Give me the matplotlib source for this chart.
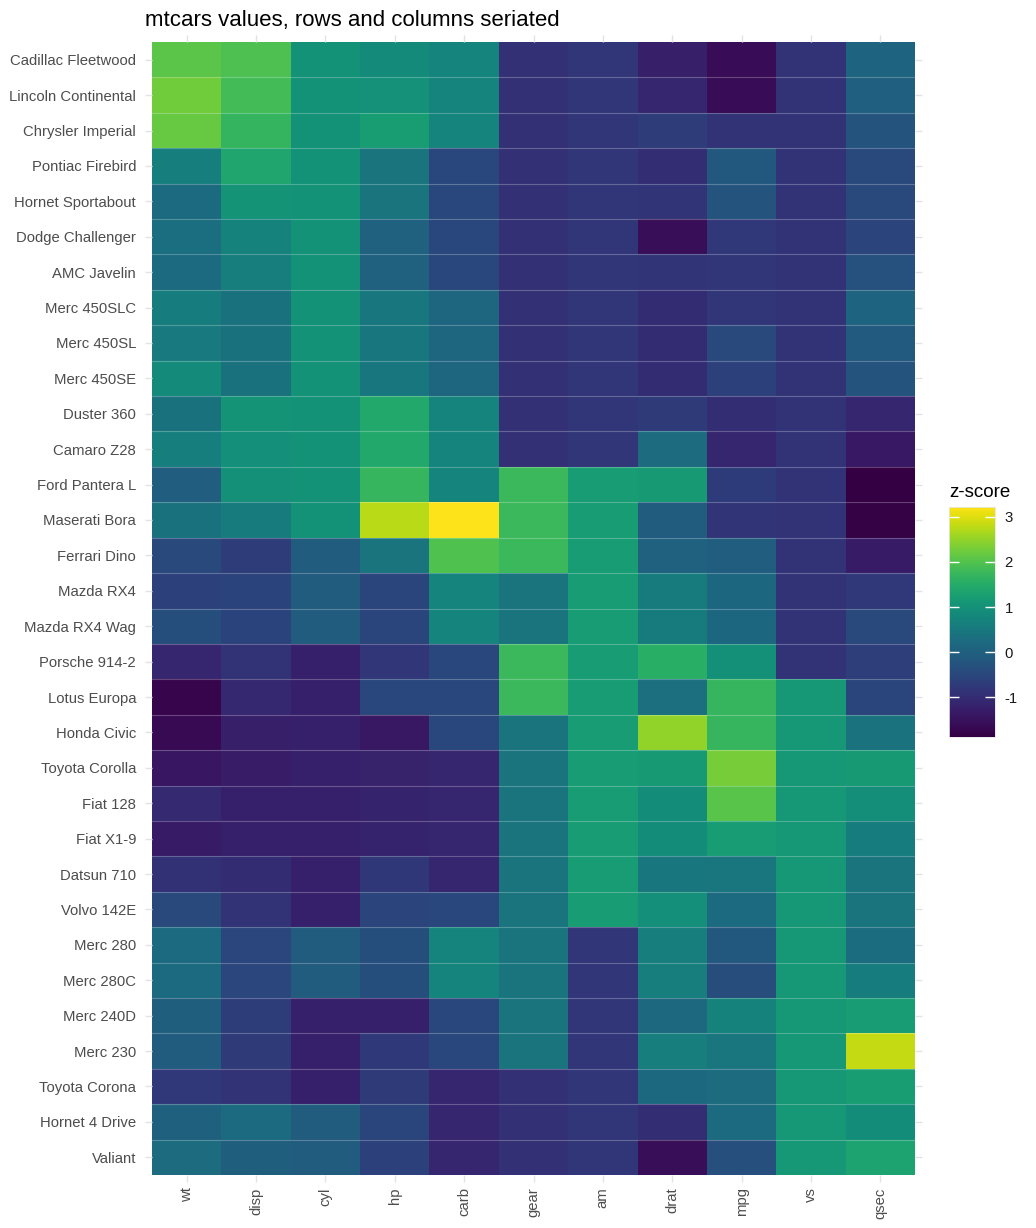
import numpy as np
import pandas as pd
import matplotlib
matplotlib.use("Agg")
import matplotlib.pyplot as plt
from matplotlib.colors import ListedColormap

plt.rcParams["font.family"] = ["Liberation Sans", "DejaVu Sans"]
plt.rcParams["axes.unicode_minus"] = False

# row order (top to bottom) and column order as seriated in the chart
cars = ["Cadillac Fleetwood", "Lincoln Continental", "Chrysler Imperial", "Pontiac Firebird",
        "Hornet Sportabout", "Dodge Challenger", "AMC Javelin", "Merc 450SLC", "Merc 450SL",
        "Merc 450SE", "Duster 360", "Camaro Z28", "Ford Pantera L", "Maserati Bora",
        "Ferrari Dino", "Mazda RX4", "Mazda RX4 Wag", "Porsche 914-2", "Lotus Europa",
        "Honda Civic", "Toyota Corolla", "Fiat 128", "Fiat X1-9", "Datsun 710", "Volvo 142E",
        "Merc 280", "Merc 280C", "Merc 240D", "Merc 230", "Toyota Corona", "Hornet 4 Drive",
        "Valiant"]
variables = ["wt", "disp", "cyl", "hp", "carb", "gear", "am", "drat", "mpg", "vs", "qsec"]

# raw mtcars values, in the row order above
wt = [5.250, 5.424, 5.345, 3.845, 3.440, 3.520, 3.435, 3.780, 3.730, 4.070, 3.570, 3.840, 3.170,
      3.570, 2.770, 2.620, 2.875, 2.140, 1.513, 1.615, 1.835, 2.200, 1.935, 2.320, 2.780, 3.440,
      3.440, 3.190, 3.150, 2.465, 3.215, 3.460]
disp = [472, 460, 440, 400, 360, 318, 304, 275.8, 275.8, 275.8, 360, 350, 351, 301, 145, 160, 160,
        120.3, 95.1, 75.7, 71.1, 78.7, 79.0, 108, 121, 167.6, 167.6, 146.7, 140.8, 120.1, 258, 225]
cyl = [8, 8, 8, 8, 8, 8, 8, 8, 8, 8, 8, 8, 8, 8, 6, 6, 6, 4, 4, 4, 4, 4, 4, 4, 4, 6, 6, 4, 4, 4, 6, 6]
hp = [205, 215, 230, 175, 175, 150, 150, 180, 180, 180, 245, 245, 264, 335, 175, 110, 110, 91, 113,
      52, 65, 66, 66, 93, 109, 123, 123, 62, 95, 97, 110, 105]
carb = [4, 4, 4, 2, 2, 2, 2, 3, 3, 3, 4, 4, 4, 8, 6, 4, 4, 2, 2, 2, 1, 1, 1, 1, 2, 4, 4, 2, 2, 1, 1, 1]
gear = [3, 3, 3, 3, 3, 3, 3, 3, 3, 3, 3, 3, 5, 5, 5, 4, 4, 5, 5, 4, 4, 4, 4, 4, 4, 4, 4, 4, 4, 3, 3, 3]
am = [0, 0, 0, 0, 0, 0, 0, 0, 0, 0, 0, 0, 1, 1, 1, 1, 1, 1, 1, 1, 1, 1, 1, 1, 1, 0, 0, 0, 0, 0, 0, 0]
drat = [2.93, 3.00, 3.23, 3.08, 3.15, 2.76, 3.15, 3.07, 3.07, 3.07, 3.21, 3.73, 4.22, 3.54, 3.62,
        3.90, 3.90, 4.43, 3.77, 4.93, 4.22, 4.08, 4.08, 3.85, 4.11, 3.92, 3.92, 3.69, 3.92, 3.70,
        3.08, 2.76]
mpg = [10.4, 10.4, 14.7, 19.2, 18.7, 15.5, 15.2, 15.2, 17.3, 16.4, 14.3, 13.3, 15.8, 15.0, 19.7,
       21.0, 21.0, 26.0, 30.4, 30.4, 33.9, 32.4, 27.3, 22.8, 21.4, 19.2, 17.8, 24.4, 22.8, 21.5,
       21.4, 18.1]
vs = [0, 0, 0, 0, 0, 0, 0, 0, 0, 0, 0, 0, 0, 0, 0, 0, 0, 0, 1, 1, 1, 1, 1, 1, 1, 1, 1, 1, 1, 1, 1, 1]
qsec = [17.98, 17.82, 17.42, 17.05, 17.02, 16.87, 17.30, 18.00, 17.60, 17.40, 15.84, 15.41, 14.50,
        14.60, 15.50, 16.46, 17.02, 16.70, 16.90, 18.52, 19.90, 19.47, 18.90, 18.61, 18.60, 18.30,
        18.90, 20.00, 22.90, 20.01, 19.44, 20.22]

df = pd.DataFrame({"wt": wt, "disp": disp, "cyl": cyl, "hp": hp, "carb": carb, "gear": gear,
                   "am": am, "drat": drat, "mpg": mpg, "vs": vs, "qsec": qsec}, index=cars)
z = (df - df.mean()) / df.std()
Z = z[variables].values

# viridis, a touch darker in the mid tones like the reference rendering
base = plt.get_cmap("viridis")(np.linspace(0, 1, 256))
base[:, :3] = base[:, :3] ** 1.2
cmap = ListedColormap(base)

W, H = 1036, 1228
fig = plt.figure(figsize=(W / 100, H / 100), dpi=100)
ax = fig.add_axes([152 / W, 1 - 1175 / H, (915 - 152) / W, (1175 - 42) / H])

mesh = ax.pcolormesh(np.arange(len(variables) + 1), np.arange(len(cars) + 1), Z,
                     cmap=cmap, shading="flat")
ax.set_xlim(0, len(variables))
ax.set_ylim(len(cars), 0)
for y in range(1, len(cars)):
    ax.axhline(y, color="white", alpha=0.25, lw=0.8)

ax.set_xticks(np.arange(len(variables)) + 0.5)
ax.set_xticklabels(variables, rotation=90)
ax.set_yticks(np.arange(len(cars)) + 0.5)
ax.set_yticklabels(cars)
ax.tick_params(axis="both", length=5, width=1, color="#e3e3e3", labelsize=10.7,
               labelcolor="#4d4d4d", left=True, right=True, top=True, bottom=True,
               labelright=False, labeltop=False)
ax.tick_params(axis="y", pad=6.5)
ax.tick_params(axis="x", pad=4)
for s in ax.spines.values():
    s.set_visible(False)

fig.text(145 / W, 1 - 26 / H, "mtcars values, rows and columns seriated", fontsize=16,
         color="black", va="baseline", ha="left")

# colour bar
cax = fig.add_axes([949 / W, 1 - 737 / H, 46 / W, 230 / H])
cb = fig.colorbar(mesh, cax=cax)
cb.outline.set_edgecolor("#e6e6e6")
cb.outline.set_linewidth(0.6)
cb.set_ticks([-1, 0, 1, 2, 3])
cax.tick_params(direction="in", color="white", length=7, width=1, left=True, right=True,
                labelsize=10.7, labelcolor="#1a1a1a", pad=7)
fig.text(949 / W, 1 - 497 / H, "z-score", fontsize=13.5, color="black", va="baseline", ha="left")

fig.savefig("out.png", dpi=100)
